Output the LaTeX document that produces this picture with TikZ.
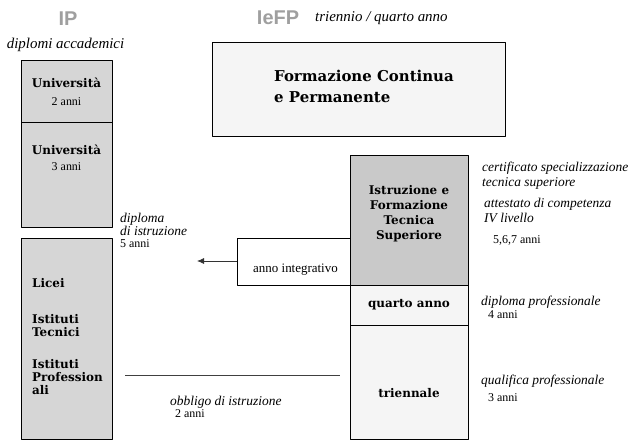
\documentclass[tikz,border=0pt]{standalone}
\usepackage{fontspec}
\setmainfont{Liberation Serif}
\newfontfamily\boxfont{DejaVu Serif}
\newfontfamily\headfont{Liberation Sans}
\usepackage{tikz}
\usetikzlibrary{arrows.meta}
\tikzset{scuro/.style={draw=black,line width=.7pt,fill=gray!32,inner sep=0pt,anchor=north west}}
\tikzset{chiaro/.style={draw=black,line width=.7pt,fill=gray!8,inner sep=0pt,anchor=north west}}
\tikzset{tb/.style={font=\boxfont\bfseries\fontsize{12}{13}\selectfont,inner sep=0pt,align=center}}
\tikzset{ti/.style={font=\itshape\fontsize{13.5}{15}\selectfont,inner sep=0pt,align=left,anchor=west}}
\tikzset{ta/.style={font=\fontsize{12}{12}\selectfont,inner sep=0pt,anchor=west}}
\tikzset{th/.style={font=\headfont\bfseries\fontsize{20}{20}\selectfont,text=gray!75,inner sep=0pt}}

\begin{document}
\begin{tikzpicture}[x=1bp,y=-1bp,line join=round]
\useasboundingbox (0,0) rectangle (638,440);
% IP
\node[th] (ip) at (68,19) {IP};
\node[ti,anchor=center,font=\itshape\fontsize{15}{15}\selectfont] (accad) at (65.5,45) {diplomi accademici};
\node[scuro,minimum width=91bp,minimum height=62bp] (uni2) at (21,60) {};
\node[tb] (uni2a) at (66.5,83) {Università};
\node[ta,anchor=center] (uni2b) at (66.5,102) {2 anni};
\node[scuro,minimum width=91bp,minimum height=105bp] (uni3) at (21,122) {};
\node[tb] (uni3a) at (66.5,150) {Università};
\node[ta,anchor=center] (uni3b) at (66.5,167) {3 anni};
\node[scuro,minimum width=91bp,minimum height=201bp] (scuola) at (21,238) {};
\node[tb,anchor=west] (licei) at (32,283) {Licei};
\node[tb,anchor=west,align=left] (tecnici) at (32,326) {Istituti\\Tecnici};
\node[tb,anchor=west,align=left] (prof) at (32,377) {Istituti\\Profession\\ali};
% IeFP
\node[th] (iefp) at (278,18) {IeFP};
\node[ti,font=\itshape\fontsize{15}{15}\selectfont] (anni) at (315,18) {triennio / quarto anno};
\node[chiaro,minimum width=293bp,minimum height=94bp] (fcp) at (212,42) {};
\node[tb,anchor=west,align=left,font=\boxfont\bfseries\fontsize{15}{21}\selectfont] (fcpt) at (274,86) {Formazione Continua\\e Permanente};
\node[scuro,fill=gray!42,minimum width=118bp,minimum height=130bp] (ifts) at (350,155) {};
\node[tb,font=\boxfont\bfseries\fontsize{12}{15}\selectfont] (iftst) at (409,214) {Istruzione e\\Formazione\\Tecnica\\Superiore};
\node[chiaro,minimum width=118bp,minimum height=40bp] (quarto) at (350,285) {};
\node[tb] (quartot) at (409,305) {quarto anno};
\node[chiaro,minimum width=118bp,minimum height=114bp] (trien) at (350,325) {};
\node[tb] (trient) at (409,393) {triennale};
\node[chiaro,fill=white,minimum width=113bp,minimum height=47bp] (integr) at (237,238) {};
\node[ta,anchor=center,font=\fontsize{13}{13}\selectfont] (integrt) at (295.5,270) {anno integrativo};
% etichette
\node[ti,font=\itshape\fontsize{13.5}{12}\selectfont] (dipl5) at (120,230) {diploma\\di istruzione\\\upshape\fontsize{12}{12}\selectfont 5 anni};
\node[ti] (cert) at (482,175.5) {certificato specializzazione\\tecnica superiore};
\node[ti] (attest) at (484,210.5) {attestato di competenza\\IV livello};
\node[ta] (anni567) at (493,240) {5,6,7 anni};
\node[ti] (diplprof) at (481,302) {diploma professionale};
\node[ta] (anni4) at (488,315) {4 anni};
\node[ti] (qualif) at (481,381) {qualifica professionale};
\node[ta] (anni3) at (488,398) {3 anni};
\node[ti] (obbligo) at (170,402) {obbligo di istruzione};
\node[ta] (anni2) at (175,414) {2 anni};
% frecce e linee
\coordinate (freccia) at (197,261);
\draw[-{Latex[length=7bp,width=6bp]},line width=.8pt,gray!40!black] (integr.west|-freccia) -- (freccia);
\coordinate (obA) at (125,375);
\coordinate (obB) at (340,375);
\draw[line width=.7pt,gray!50!black] (obA) -- (obB);
\end{tikzpicture}
\end{document}
